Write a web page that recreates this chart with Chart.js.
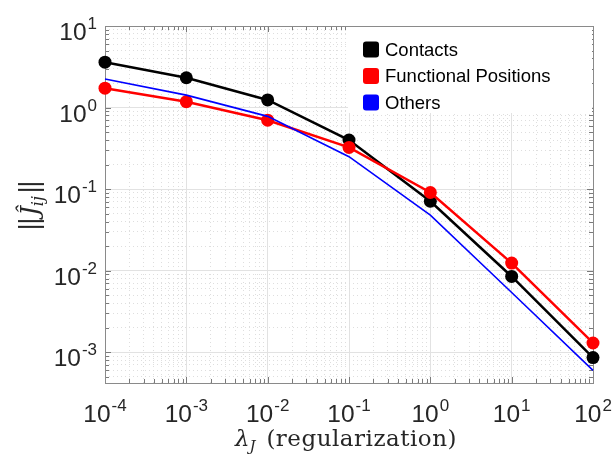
<!DOCTYPE html>
<html>
<head>
<meta charset="utf-8">
<script src="https://cdn.jsdelivr.net/npm/chart.js@4.4.1/dist/chart.umd.min.js"></script>
<style>
  html, body { margin: 0; padding: 0; background: #fff; }
  #wrap { width: 614px; height: 459px; }
</style>
</head>
<body>
<div id="wrap"><canvas id="normChart" width="614" height="459"></canvas></div>
<script>
const LAMBDA = [1e-4, 1e-3, 1e-2, 1e-1, 1, 10, 100];
const CONTACTS = [3.6, 2.32, 1.24, 0.40, 0.071, 0.0085, 0.00086];
const FUNCTIONAL = [1.73, 1.18, 0.70, 0.325, 0.091, 0.0124, 0.0013];
const OTHERS = [2.24, 1.42, 0.78, 0.25, 0.048, 0.0054, 0.0006];

const X_TICKS = [1e-4, 1e-3, 1e-2, 1e-1, 1, 10, 100];
const X_TICK_EXP = ['-4', '-3', '-2', '-1', '0', '1', '2'];
const Y_TICKS = [1e-3, 1e-2, 1e-1, 1, 10];
const Y_TICK_EXP = ['-3', '-2', '-1', '0', '1'];

const X_RANGE = [1e-4, 100];
const Y_RANGE = [4.2e-4, 10];

const SANS = '"Liberation Sans", Arial, sans-serif';
const SERIF = '"DejaVu Serif", "Liberation Serif", serif';

// decades plus 2..9 minors inside a range
function logTicks(min, max) {
  const out = [];
  const e0 = Math.floor(Math.log10(min));
  const e1 = Math.ceil(Math.log10(max));
  for (let e = e0; e <= e1; e++) {
    for (let m = 1; m <= 9; m++) {
      const v = parseFloat((m * Math.pow(10, e)).toPrecision(6));
      if (v >= min * 0.999 && v <= max * 1.001) out.push({ value: v, major: m === 1 });
    }
  }
  return out;
}

function pts(ys) {
  return LAMBDA.map((x, i) => ({ x, y: ys[i] }));
}

const gridOpts = {
  drawTicks: false,
  lineWidth: 1,
  color: (c) => (c.tick && c.tick.major ? '#e2e2e2' : '#dedede'),
};
const borderOpts = {
  display: false,
  dash: (c) => (c.tick && c.tick.major ? [] : [1, 3]),
};

function drawPow(ctx, exp, x, y, align) {
  ctx.font = '24.5px ' + SANS;
  const w1 = ctx.measureText('10').width;
  ctx.font = '17px ' + SANS;
  const w2 = ctx.measureText(exp).width;
  const total = w1 + w2 + 1;
  let start = align === 'center' ? x - total / 2 : x - total;
  ctx.textAlign = 'left';
  ctx.textBaseline = 'alphabetic';
  ctx.fillStyle = '#262626';
  ctx.font = '24.5px ' + SANS;
  ctx.fillText('10', start, y);
  ctx.font = '17px ' + SANS;
  ctx.fillText(exp, start + w1 + 1, y - 11);
}

const decorPlugin = {
  id: 'decor',
  // axes box, ticks, labels and legend go under the data marks
  beforeDatasetsDraw(chart) {
    const { ctx, chartArea: a, scales } = chart;
    const xs = scales.x;
    const ys = scales.y;
    ctx.save();

    // inward tick marks on all four sides
    ctx.strokeStyle = '#7a7a7a';
    ctx.lineWidth = 1;
    ctx.beginPath();
    logTicks(X_RANGE[0], X_RANGE[1]).forEach((t) => {
      const px = Math.round(xs.getPixelForValue(t.value)) + 0.5;
      const len = t.major ? 6 : 4;
      ctx.moveTo(px, a.bottom); ctx.lineTo(px, a.bottom - len);
      ctx.moveTo(px, a.top); ctx.lineTo(px, a.top + len);
    });
    logTicks(Y_RANGE[0], Y_RANGE[1]).forEach((t) => {
      const py = Math.round(ys.getPixelForValue(t.value)) + 0.5;
      const len = t.major ? 6 : 4;
      ctx.moveTo(a.left, py); ctx.lineTo(a.left + len, py);
      ctx.moveTo(a.right, py); ctx.lineTo(a.right - len, py);
    });
    ctx.stroke();

    // legend box
    const lx = 348, ly = a.top + 1, lw = a.right - 348 - 1, lh = 86;
    ctx.fillStyle = '#ffffff';
    ctx.fillRect(lx, ly, lw, lh);
    chart.data.datasets
      .slice()
      .sort((p, q) => p.legendRank - q.legendRank)
      .forEach((ds, i) => {
        const cy = 49.5 + i * 26.5;
        ctx.fillStyle = ds.borderColor;
        ctx.beginPath();
        if (ctx.roundRect) ctx.roundRect(363, cy - 8, 16, 16, 3);
        else ctx.rect(363, cy - 8, 16, 16);
        ctx.fill();
        ctx.fillStyle = '#000';
        ctx.font = '18.5px ' + SANS;
        ctx.textAlign = 'left';
        ctx.textBaseline = 'middle';
        ctx.fillText(ds.label, 385, cy + 1);
      });

    // box around the axes
    ctx.strokeStyle = '#8a8a8a';
    ctx.lineWidth = 1;
    ctx.strokeRect(Math.round(a.left) + 0.5, Math.round(a.top) + 0.5,
      Math.round(a.right - a.left), Math.round(a.bottom - a.top));

    // tick labels
    X_TICKS.forEach((v, i) => drawPow(ctx, X_TICK_EXP[i], xs.getPixelForValue(v), a.bottom + 39, 'center'));
    Y_TICKS.forEach((v, i) => drawPow(ctx, Y_TICK_EXP[i], 97, ys.getPixelForValue(v) + 14, 'right'));

    // x title: lambda_J (regularization)
    ctx.fillStyle = '#262626';
    ctx.textBaseline = 'alphabetic';
    ctx.textAlign = 'left';
    const f1 = 'italic 23px ' + SERIF;
    const fSub = 'italic 15px ' + SERIF;
    const f2 = '23px ' + SERIF;
    ctx.font = f1; const wl = ctx.measureText('λ').width;
    ctx.font = fSub; const wj = ctx.measureText('J').width;
    let sx = 235;
    const by = 446;
    ctx.font = f1; ctx.fillText('λ', sx, by); sx += wl;
    ctx.font = fSub; ctx.fillText('J', sx, by + 5); sx += wj + 3;
    ctx.font = f2;
    if ('letterSpacing' in ctx) ctx.letterSpacing = '0.5px';
    ctx.fillText(' (regularization)', sx, by);
    if ('letterSpacing' in ctx) ctx.letterSpacing = '0px';

    // y title: ||J_ij||
    ctx.save();
    ctx.translate(30, 205);
    ctx.rotate(-Math.PI / 2);
    const g1 = '26px ' + SERIF;
    const g2 = 'italic 24px ' + SERIF;
    const g3 = 'italic 16px ' + SERIF;
    ctx.font = g1; const wb = ctx.measureText('|').width;
    ctx.font = g2; const wJ = ctx.measureText('Ĵ').width;
    ctx.font = g3; const wij = ctx.measureText('ij').width;
    const tot = wb * 4 - 6 + wJ + wij + 4;
    let tx = -tot / 2;
    ctx.font = g1;
    ctx.fillText('|', tx, 8); tx += wb - 3;
    ctx.fillText('|', tx, 8); tx += wb + 1;
    ctx.font = g2; ctx.fillText('Ĵ', tx, 8); tx += wJ;
    ctx.font = g3; ctx.fillText('ij', tx, 13); tx += wij + 2;
    ctx.font = g1;
    ctx.fillText('|', tx, 8); tx += wb - 3;
    ctx.fillText('|', tx, 8);
    ctx.restore();

    ctx.restore();
  },
};

new Chart(document.getElementById('normChart').getContext('2d'), {
  type: 'line',
  data: {
    datasets: [
      {
        label: 'Contacts',
        legendRank: 0,
        data: pts(CONTACTS),
        borderColor: '#000000',
        backgroundColor: '#000000',
        borderWidth: 2.5,
        pointRadius: 6.5,
        pointBackgroundColor: '#000000',
        pointBorderWidth: 0,
        clip: false,
        order: 3,
      },
      {
        label: 'Functional Positions',
        legendRank: 1,
        data: pts(FUNCTIONAL),
        borderColor: '#ff0000',
        backgroundColor: '#ff0000',
        borderWidth: 2.5,
        pointRadius: 6.5,
        pointBackgroundColor: '#ff0000',
        pointBorderWidth: 0,
        clip: false,
        order: 2,
      },
      {
        label: 'Others',
        legendRank: 2,
        data: pts(OTHERS),
        borderColor: '#0000ff',
        backgroundColor: '#0000ff',
        borderWidth: 1.6,
        pointRadius: 0,
        clip: false,
        order: 1,
      },
    ],
  },
  options: {
    responsive: false,
    animation: false,
    events: [],
    layout: { padding: { left: 105, right: 21, top: 26, bottom: 76 } },
    plugins: {
      legend: { display: false },
      tooltip: { enabled: false },
    },
    elements: { line: { tension: 0 } },
    scales: {
      x: {
        type: 'logarithmic',
        min: X_RANGE[0],
        max: X_RANGE[1],
        ticks: { display: false },
        grid: gridOpts,
        border: borderOpts,
        afterBuildTicks: (s) => { s.ticks = logTicks(X_RANGE[0], X_RANGE[1]); },
        afterFit: (s) => { s.height = 0; },
      },
      y: {
        type: 'logarithmic',
        min: Y_RANGE[0],
        max: Y_RANGE[1],
        ticks: { display: false },
        grid: gridOpts,
        border: borderOpts,
        afterBuildTicks: (s) => { s.ticks = logTicks(Y_RANGE[0], Y_RANGE[1]); },
        afterFit: (s) => { s.width = 0; },
      },
    },
  },
  plugins: [decorPlugin],
});
</script>
</body>
</html>
